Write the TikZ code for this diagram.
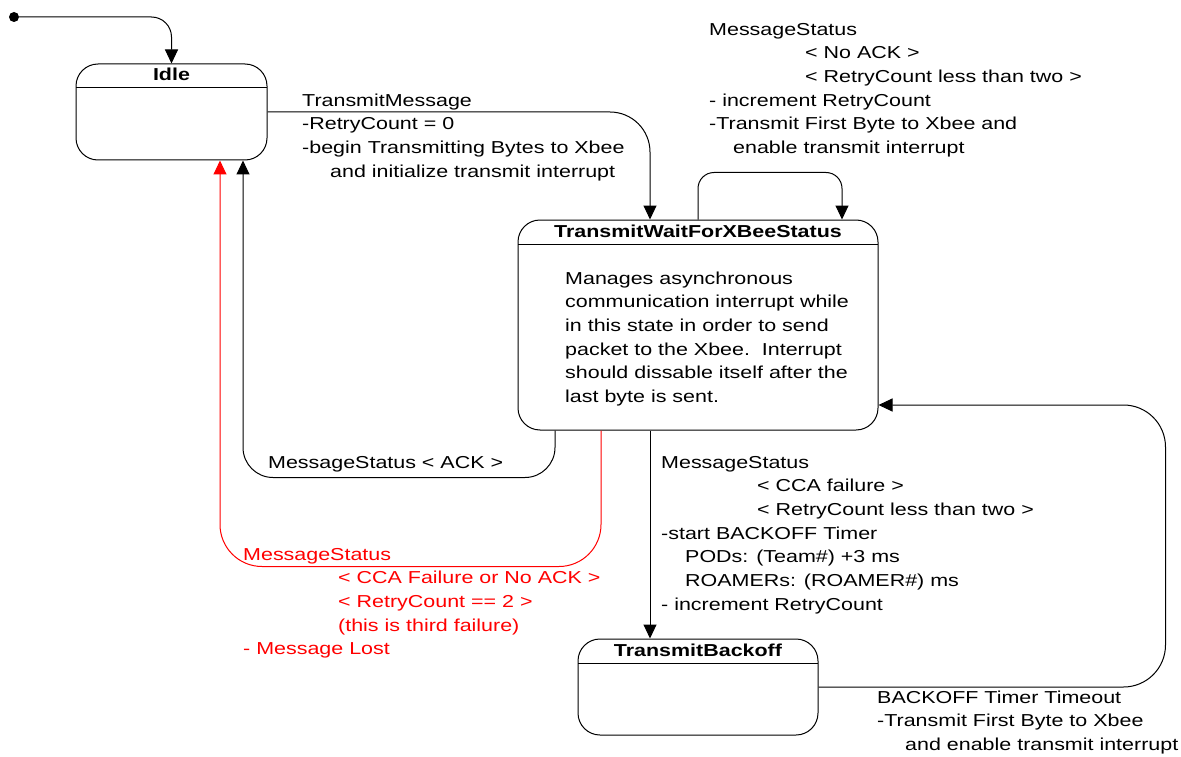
\documentclass[tikz,border=0pt]{standalone}
\usepackage{fontspec}
\setmainfont{Liberation Sans}[FakeStretch=1.24]
\usetikzlibrary{arrows.meta}

\tikzset{
  state/.style={draw, line width=1pt, rounded corners=22pt, inner sep=0pt,
    path picture={\draw[line width=1pt]
      ([yshift=-24pt]path picture bounding box.north west) --
      ([yshift=-24pt]path picture bounding box.north east);}},
  title/.style={anchor=base, inner sep=0pt},
  % multi-line texts sit on the baseline of their last line
  txt/.style={anchor=base west, align=left, inner sep=0pt},
  arr/.style={-{Triangle[length=14pt,width=13pt]}, line width=1pt},
}

\begin{document}
\begin{tikzpicture}[x=1pt, y=-1pt, font=\fontsize{17.3}{23.7}\selectfont]
  \def \hdr {17.5pt} % title baseline below the top of a state
  \def \ind {96pt}   % indent of the guard lines
  \useasboundingbox (0,0) rectangle (1181,757);
  % states
  \node[state, minimum width=191pt, minimum height=96pt] (idle) at (171.5,112) {};
  \node[state, minimum width=360pt, minimum height=210pt] (twait) at (698,325) {};
  \node[state, minimum width=240pt, minimum height=96pt] (tback) at (698,687) {};
  \foreach \s/\t in {idle/Idle, twait/TransmitWaitForXBeeStatus, tback/TransmitBackoff}
    \node[title] (\s-title) at ([yshift=-\hdr]\s.north) {\textbf{\t}};
  \node[txt] (twait-text) at (565,402.5) {Manages asynchronous\\communication interrupt while\\
    in this state in order to send\\packet to the Xbee.\ \ Interrupt\\
    should dissable itself after the\\last byte is sent.};
  % initial state
  \node[circle, fill, inner sep=0pt, minimum size=10pt] (init) at (14,17) {};
  \draw[arr, rounded corners=20pt] (init) -| (idle.north);
  % transitions
  \draw[arr, rounded corners=40pt] (idle.east) -| ([xshift=-48pt]twait.north);
  \node[txt] (send) at (302,177.1) {TransmitMessage\\-RetryCount = 0\\
    -begin Transmitting Bytes to Xbee\\\hspace*{28pt}and initialize transmit interrupt};
  \draw[arr, rounded corners=16pt] (twait.north) -- ++(0,-47) -| ([xshift=144pt]twait.north);
  \node[txt] (noack) at (709,153.5) {MessageStatus\\\hspace*{\ind}< No ACK >\\
    \hspace*{\ind}< RetryCount less than two >\\- increment RetryCount\\
    -Transmit First Byte to Xbee and\\\hspace*{24pt}enable transmit interrupt};
  \draw[arr, rounded corners=30pt] ([xshift=-143pt]twait.south) |- ++(-312,47)
    -- ([xshift=71.5pt]idle.south);
  \node[txt] (ack) at (268,468) {MessageStatus < ACK >};
  \draw[arr, red, rounded corners=42pt] ([xshift=-97pt]twait.south) |- ++(-381,136)
    -- ([xshift=48.5pt]idle.south);
  \node[txt, text=red] (lost) at (243,654.8) {MessageStatus\\
    \hspace*{95pt}< CCA Failure or No ACK >\\\hspace*{95pt}< RetryCount == 2 >\\
    \hspace*{95pt}(this is third failure)\\- Message Lost};
  \draw[arr] ([xshift=-48pt]twait.south) -- ([xshift=-48pt]tback.north);
  \node[txt] (cca) at (661,610.2) {MessageStatus\\\hspace*{\ind}< CCA failure >\\
    \hspace*{\ind}< RetryCount less than two >\\-start BACKOFF Timer\\
    \hspace*{24pt}PODs: (Team\#) +3 ms\\\hspace*{24pt}ROAMERs: (ROAMER\#) ms\\
    - increment RetryCount};
  \draw[arr, rounded corners=42pt] (tback.east) -| ++(347,-282) -- ([yshift=-80pt]twait.east);
  \node[txt] (timeout) at (877,750.4) {BACKOFF Timer Timeout\\-Transmit First Byte to Xbee\\
    \hspace*{28pt}and enable transmit interrupt};
\end{tikzpicture}
\end{document}
